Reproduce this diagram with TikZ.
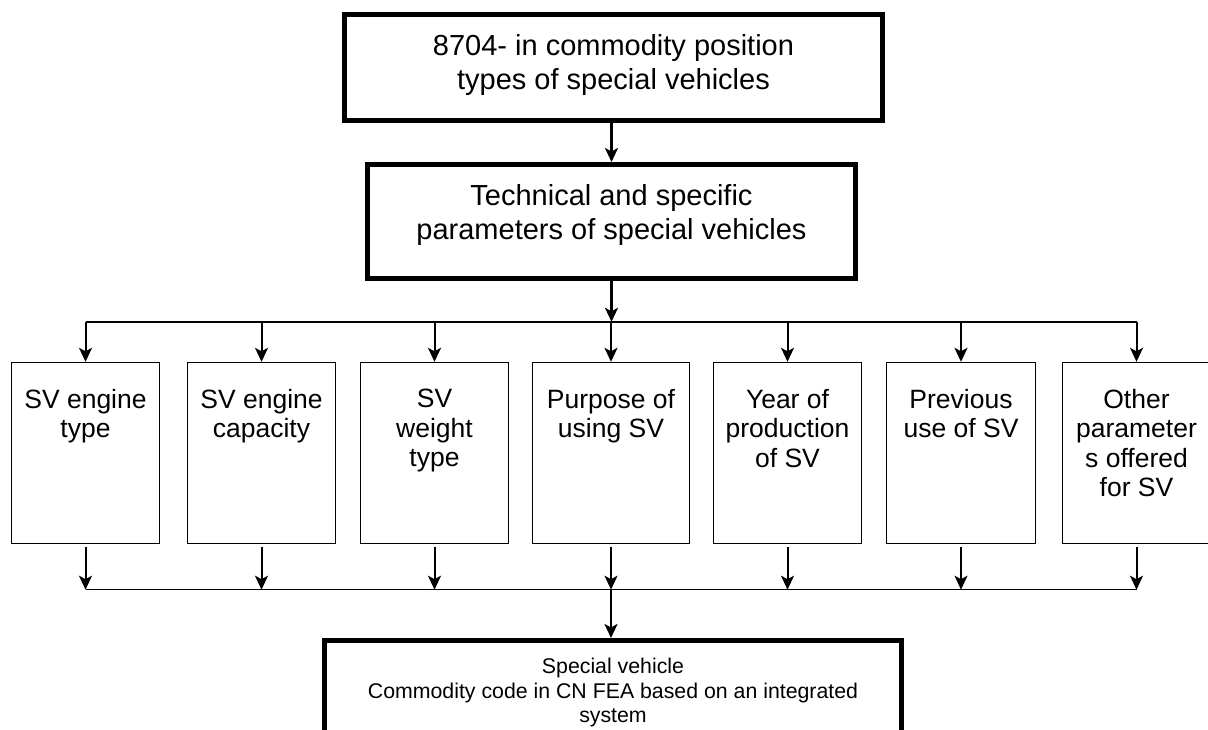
\documentclass[tikz,border=0pt]{standalone}
\usepackage{fontspec}
\setmainfont{Liberation Sans}
\usetikzlibrary{arrows.meta,calc}
\begin{document}
\begin{tikzpicture}[x=1pt,y=-1pt,
  bigbox/.style={draw,line width=5pt,rectangle,inner sep=0pt},
  smallbox/.style={draw,line width=1.4pt,rectangle,inner sep=0pt,minimum height=181pt},
  bigtext/.style={anchor=north,inner sep=0pt,align=center,font=\fontsize{29}{34}\selectfont},
  boxtext/.style={anchor=north,inner sep=0pt,align=center,font=\fontsize{26.5}{29.5}\selectfont},
  restext/.style={anchor=north,inner sep=0pt,align=center,font=\fontsize{21.3}{24.5}\selectfont},
  tip/.style={-{Stealth[length=14pt,width=13pt,inset=3.5pt]}},
  mainarrow/.style={tip,line width=2.5pt},
  brancharrow/.style={tip,line width=2pt},
  busline/.style={line width=1.5pt}
]
\useasboundingbox (0,0) rectangle (1208,729);
\clip (0,0) rectangle (1208,729);

% top boxes
\node[bigbox,minimum width=538pt,minimum height=106pt] (top) at (613.5,67.5) {};
\node[bigtext] (toptext) at (613.5,34) {8704- in commodity position\\types of special vehicles};
\node[bigbox,minimum width=488pt,minimum height=114pt] (tech) at (611.5,221.5) {};
\node[bigtext] (techtext) at (611.5,184) {Technical and specific\\parameters of special vehicles};
\draw[mainarrow] (top.south -| tech.north) -- (tech.north);

% parameter boxes
\foreach \i/\x/\w/\t in {1/85.5/148/{SV engine\\type},
                         2/261.5/148/{SV engine\\capacity},
                         3/434.5/148/{SV\\weight\\type},
                         4/611/157/{Purpose of\\using SV},
                         5/787.5/148/{Year of\\production\\of SV},
                         6/961/149/{Previous\\use of SV},
                         7/1136.5/148/{Other\\parameter\\s offered\\for SV}}{
  \node[smallbox,minimum width=\w pt] (b\i) at (\x,453) {};
  \node[boxtext] (bt\i) at (\x,389) {\t};
  \coordinate (u\i) at ($(b\i.north)+(0,-40)$);
  \coordinate (d\i) at ($(b\i.south)+(0,45.5)$);
}
\draw[busline] (u1) -- (u7);
\draw[mainarrow] (tech.south) -- (tech.south |- u1);
\foreach \i in {1,...,7}{
  \draw[brancharrow] (u\i) -- (b\i.north);
  \draw[brancharrow,shorten <=3pt] (b\i.south) -- (d\i);
}
\draw[busline] (d1) -- (d7);

% result box
\node[bigbox,minimum width=577pt,minimum height=140pt] (res) at (613,710.5) {};
\node[restext] (restxt) at (613,658) {Special vehicle\\Commodity code in CN FEA based on an integrated\\system};
\draw[mainarrow] (d4) -- (d4 |- res.north);
\end{tikzpicture}
\end{document}
